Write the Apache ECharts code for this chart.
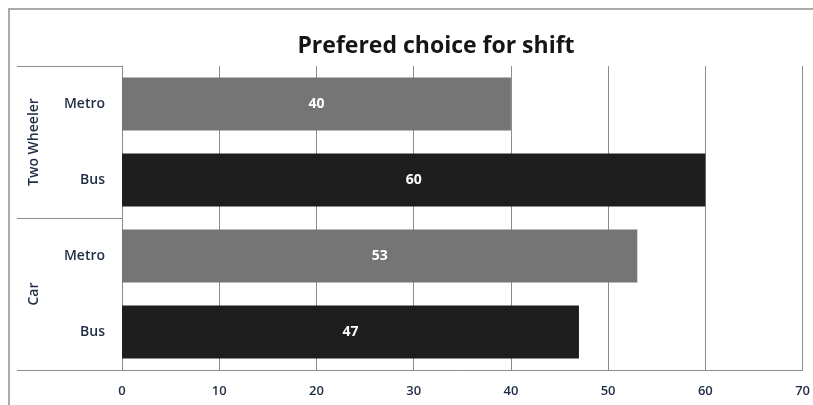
<!DOCTYPE html>
<html>
<head>
<meta charset="utf-8">
<script src="https://cdn.jsdelivr.net/npm/echarts@6/dist/echarts.min.js"></script>
<style>html,body{margin:0;padding:0;background:#fff;}#c{width:813px;height:405px;}</style>
</head>
<body>
<div id="c"></div>
<script>
var titleText = 'Prefered choice for shift';
var groups = ['Two Wheeler', 'Car'];
var modes = ['Metro', 'Bus', 'Metro', 'Bus'];
var values = [40, 60, 53, 47];
var modeColors = {Metro: '#757575', Bus: '#1e1e1e'};
var xTicks = [0, 10, 20, 30, 40, 50, 60, 70];

var chart = echarts.init(document.getElementById('c'));
var font = '"Open Sans", "Liberation Sans", sans-serif';
var labelColor = '#1f2d45';
chart.setOption({
  animation: false,
  backgroundColor: '#fff',
  title: {
    text: titleText, left: 431, top: 30, textAlign: 'center',
    textStyle: {fontFamily: font, fontSize: 23, fontWeight: 'bold', color: '#151515'}
  },
  graphic: [{
    type: 'line', shape: {x1: 8, y1: 9, x2: 813, y2: 9}, silent: true,
    style: {stroke: '#aaaaaa', lineWidth: 2}
  }, {
    type: 'line', shape: {x1: 9, y1: 8, x2: 9, y2: 405}, silent: true,
    style: {stroke: '#aaaaaa', lineWidth: 2}
  }],
  grid: {left: 122, right: 7, top: 66, bottom: 35, containLabel: false},
  xAxis: {
    type: 'value', min: xTicks[0], max: xTicks[xTicks.length - 1], interval: 10,
    axisLine: {show: true, lineStyle: {color: '#8c8c8c', width: 1}},
    axisTick: {show: false},
    axisLabel: {margin: 15, color: labelColor, fontFamily: font, fontSize: 13, fontWeight: 600},
    splitLine: {show: true, lineStyle: {color: '#8c8c8c', width: 1}}
  },
  yAxis: [{
    type: 'category', data: modes, inverse: true,
    axisLine: {show: true, lineStyle: {color: '#8c8c8c', width: 1}},
    axisTick: {show: false},
    axisLabel: {margin: 17, color: labelColor, fontFamily: font, fontSize: 14, fontWeight: 600}
  }, {
    type: 'category', data: groups, inverse: true, position: 'left',
    axisLine: {show: false},
    axisTick: {show: true, length: 105, lineStyle: {color: '#8c8c8c', width: 1}},
    axisLabel: {rotate: 90, margin: 81, color: labelColor, fontFamily: font, fontSize: 14, fontWeight: 600}
  }],
  series: [{
    type: 'bar', yAxisIndex: 0, barCategoryGap: '30%',
    data: values.map(function (v, i) {
      return {value: v, itemStyle: {color: modeColors[modes[i]]}};
    }),
    label: {show: true, position: 'inside', color: '#fff', fontFamily: font, fontSize: 14, fontWeight: 'bold'}
  }]
});
</script>
</body>
</html>
